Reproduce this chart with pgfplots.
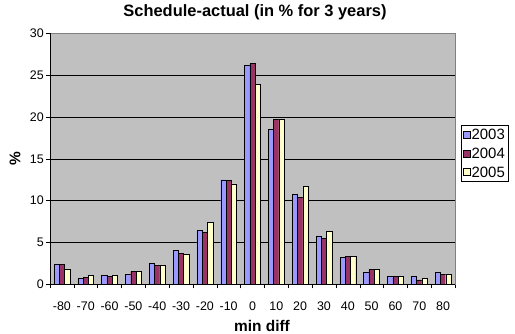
\documentclass[border=0pt]{standalone}
\usepackage{pgfplots}
\pgfplotsset{compat=1.18}
\usepackage{fontspec}
\setmainfont{Liberation Sans}
\definecolor{cA}{RGB}{153,153,255}
\definecolor{cB}{RGB}{153,51,102}
\definecolor{cC}{RGB}{255,255,204}
\definecolor{bg}{RGB}{192,192,192}
\definecolor{brd}{RGB}{128,128,128}
\begin{document}
\begin{tikzpicture}
\begin{axis}[
  name=ax, at={(0,0)}, anchor=south west,
  scale only axis, width=405bp, height=251bp,
  axis background/.style={fill=bg},
  axis line style={draw=brd},
  ybar=0pt, bar width=5.29bp,
  xmin=-0.5, xmax=16.5, ymin=0, ymax=30,
  xtick={0,...,16},
  xticklabels={-80,-70,-60,-50,-40,-30,-20,-10,0,10,20,30,40,50,60,70,80},
  minor xtick={-0.5,0.5,...,16.5},
  major x tick style={draw=none},
  minor x tick style={black, thin},
  minor tick length=4bp,
  xtick pos=lower, ytick pos=left,
  ytick={0,5,...,30},
  major y tick style={black, thin},
  major tick length=4bp,
  tick align=outside,
  ymajorgrids, grid style={black, thin},
  /pgf/number format/assume math mode=true,
  ticklabel style={font=\fontsize{12.5}{14}\selectfont},
  xticklabel style={anchor=base, yshift=-22.5bp, inner sep=0pt},
  yticklabel style={anchor=east, inner sep=0pt, xshift=-2bp},
  title={\textbf{Schedule-actual (in \% for 3 years)}},
  title style={font=\fontsize{16.5}{19}\selectfont, at={(rel axis cs:0.5,1)}, anchor=base, yshift=10.6bp, xshift=2.5bp, inner sep=0pt},
  xlabel={\textbf{min diff}},
  xlabel style={font=\fontsize{15.5}{18}\selectfont, at={(rel axis cs:0.5,0)}, anchor=base, yshift=-47.4bp, xshift=9.5bp, inner sep=0pt},
  ylabel={\textbf{\%}},
  ylabel style={font=\fontsize{15.5}{18}\selectfont, at={(rel axis cs:0,0.5)}, anchor=center, yshift=35bp, inner sep=0pt},
  legend style={at={(1.0148,0.6347)}, anchor=north west, draw=black, fill=white,
    font=\fontsize{15}{18}\selectfont, inner xsep=2bp, inner ysep=3bp,
    row sep=6bp,
    nodes={inner sep=1bp, text height=10.7bp, text depth=0bp}},
  legend cell align=left,
  legend image code/.code={\draw[#1, draw=black, thin] (0bp,-3.5bp) rectangle (7bp,3.5bp);},
]
\addplot[fill=cA, draw=black, thin] coordinates {(0,2.35) (1,0.68) (2,1.08) (3,1.2) (4,2.47) (5,4.02) (6,6.45) (7,12.5) (8,26.2) (9,18.5) (10,10.75) (11,5.8) (12,3.19) (13,1.43) (14,0.92) (15,0.94) (16,1.43)};
\addplot[fill=cB, draw=black, thin] coordinates {(0,2.35) (1,0.84) (2,0.96) (3,1.55) (4,2.23) (5,3.7) (6,6.2) (7,12.4) (8,26.4) (9,19.7) (10,10.4) (11,5.5) (12,3.3) (13,1.75) (14,0.92) (15,0.52) (16,1.19)};
\addplot[fill=cC, draw=black, thin] coordinates {(0,1.83) (1,1.08) (2,1.08) (3,1.55) (4,2.23) (5,3.59) (6,7.4) (7,12.0) (8,23.9) (9,19.7) (10,11.67) (11,6.37) (12,3.3) (13,1.75) (14,0.92) (15,0.7) (16,1.19)};
\legend{2003,2004,2005}
\draw[black, thin] (rel axis cs:0,0) -- (rel axis cs:0,1);
\draw[black, thin] (rel axis cs:0,0) -- (rel axis cs:1,0);
\end{axis}
\pgfresetboundingbox
\useasboundingbox (-50bp,-49.7bp) rectangle (465bp,284.3bp);
\end{tikzpicture}
\end{document}
